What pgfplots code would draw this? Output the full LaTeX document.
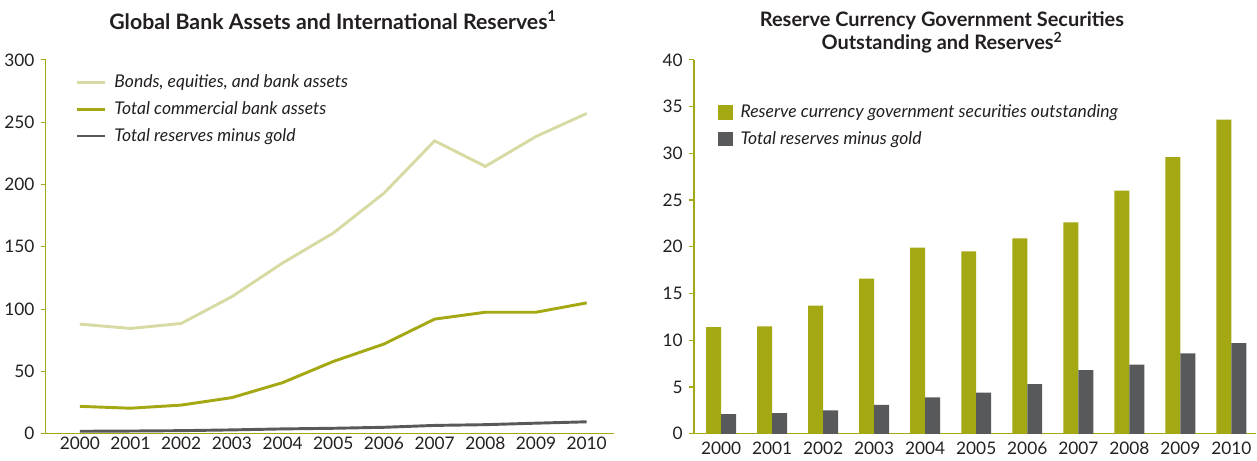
\documentclass[border=0pt]{standalone}
\usepackage{pgfplots}
\pgfplotsset{compat=1.18}
\usepackage{fontspec}
\setmainfont{Lato}
\definecolor{paleline}{RGB}{216,218,164}
\definecolor{olive}{RGB}{164,168,18}
\definecolor{darkgray}{RGB}{88,89,91}
\definecolor{txt}{RGB}{35,31,32}

\pgfplotsset{
  imfstyle/.style={
    scale only axis,
    axis lines*=left,
    axis line style={olive, line width=0.9pt},
    tick style={olive, line width=0.9pt},
    major tick length=4pt,
    xtick style={draw=none},
    ytick align=outside,
    tick label style={font=\fontsize{13}{15}\selectfont, text=txt},
    /pgf/number format/assume math mode=true,
    /pgf/number format/1000 sep={},
    xtick={2000,2001,...,2010},
    xticklabels={2000,2001,2002,2003,2004,2005,2006,2007,2008,2009,2010},
    xticklabel style={yshift=1pt},
    yticklabel style={xshift=-1pt},
    legend cell align=left,
    legend style={draw=none, fill=none, font=\fontsize{13.2}{15}\selectfont\itshape, text=txt,
      row sep=5pt, anchor=north west},
  }
}

\begin{document}
\begin{tikzpicture}
\begin{axis}[imfstyle,
  at={(0,0)}, anchor=origin,
  width=427pt, height=281.25pt,
  xmin=1999.33, xmax=2010.53,
  ymin=0, ymax=300, ytick={0,50,...,300},
  legend style={at={(rel axis cs:0.045,0.975)}},
  legend image code/.code={\draw[#1, line width=2.2pt] (0pt,0pt) -- (21pt,0pt); \path (25pt,0pt);},
]
\addplot[paleline, line width=2.2pt] coordinates {
(2000,88) (2001,84.5) (2002,88.5) (2003,110) (2004,137) (2005,161) (2006,193) (2007,235) (2008,214.5) (2009,238.5) (2010,257)};
\addlegendentry{Bonds, equities, and bank assets}
\addplot[olive, line width=2.2pt] coordinates {
(2000,22) (2001,20.5) (2002,23) (2003,29) (2004,41) (2005,58) (2006,72) (2007,92) (2008,97.5) (2009,97.5) (2010,105)};
\addlegendentry{Total commercial bank assets}
\addplot[darkgray, line width=2.2pt] coordinates {
(2000,2) (2001,2.2) (2002,2.5) (2003,3.1) (2004,3.9) (2005,4.4) (2006,5.2) (2007,6.7) (2008,7.3) (2009,8.5) (2010,9.6)};
\addlegendentry{Total reserves minus gold}
\end{axis}

\begin{axis}[imfstyle,
  at={(487.5pt,0)}, anchor=origin,
  width=423pt, height=281.25pt,
  xmin=1999.47, xmax=2010.49,
  ymin=0, ymax=40, ytick={0,5,...,40},
  ybar=0pt, bar width=11.25pt,
  legend style={at={(rel axis cs:0.035,0.895)}},
  legend image code/.code={\fill[#1] (0pt,-5.6pt) rectangle (11.25pt,5.6pt); \path (15pt,0pt);},
]
\addplot[fill=olive, draw=none] coordinates {
(2000,11.4) (2001,11.5) (2002,13.7) (2003,16.6) (2004,19.9) (2005,19.5) (2006,20.9) (2007,22.6) (2008,26.0) (2009,29.6) (2010,33.6)};
\addlegendentry{Reserve currency government securities outstanding}
\addplot[fill=darkgray, draw=none] coordinates {
(2000,2.1) (2001,2.2) (2002,2.5) (2003,3.1) (2004,3.9) (2005,4.4) (2006,5.3) (2007,6.8) (2008,7.4) (2009,8.6) (2010,9.7)};
\addlegendentry{Total reserves minus gold}
\end{axis}

\node[font=\fontsize{16}{18}\selectfont\bfseries, text=txt] at (216pt,311pt)
  {Global Bank Assets and International Reserves\textsuperscript{1}};
\node[font=\fontsize{15}{17.5}\selectfont\bfseries, text=txt, align=center] at (674pt,302pt)
  {Reserve Currency Government Securities\\Outstanding and Reserves\textsuperscript{2}};
\path (-32.25pt,-20.25pt) rectangle (910.5pt,326.25pt);
\end{tikzpicture}
\end{document}
